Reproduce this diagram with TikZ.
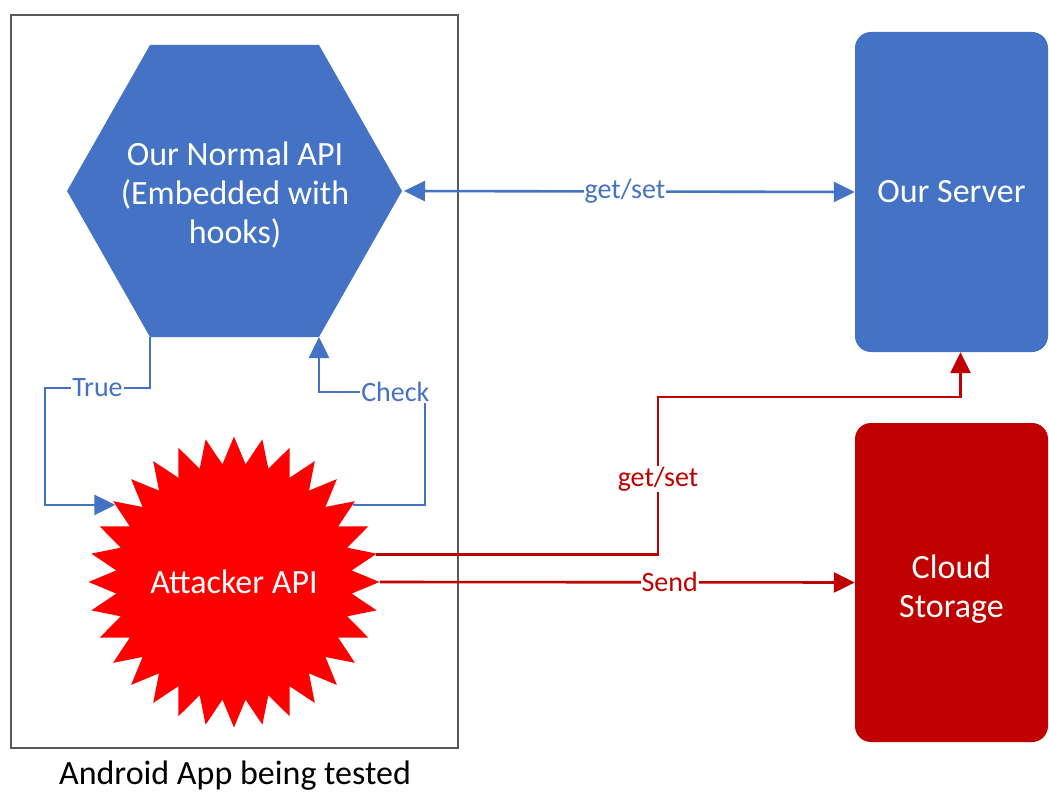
\documentclass[tikz,border=0pt]{standalone}
\usepackage{fontspec}
\setmainfont{Carlito}
\usetikzlibrary{shapes.geometric,arrows.meta}

\definecolor{apiblue}{HTML}{4472C4}
\definecolor{darkred}{HTML}{C00000}
\definecolor{burstred}{HTML}{FF0000}
\definecolor{framegray}{HTML}{595959}

\tikzset{
  bigtext/.style={font=\fontsize{34}{39}\selectfont, align=center},
  whitetext/.style={bigtext, text=white},
  blueline/.style={draw=apiblue, line width=2.6pt,
    -{Triangle[length=21pt,width=20pt]}},
  redline/.style={draw=darkred, line width=2.6pt,
    -{Triangle[length=21pt,width=20pt]}},
  bluelbl/.style={fill=white, inner sep=1pt, text=apiblue,
    font=\fontsize{28}{30}\selectfont},
  redlbl/.style={fill=white, inner sep=1pt, text=darkred,
    font=\fontsize{28}{30}\selectfont},
}

\begin{document}
\begin{tikzpicture}[x=1pt, y=-1pt]
  \useasboundingbox (0,0) rectangle (1049,794);

  % the app under test
  \node (app) [draw=framegray, line width=1.5pt, minimum width=447pt,
    minimum height=733pt, inner sep=0pt] at (234.5,381.5) {};
  \node (applabel) [bigtext, text=black] at (235,776) {Android App being tested};

  % hooked API: flat-topped hexagon with its corners named
  \coordinate (hexTL) at (150,45);
  \coordinate (hexTR) at (319,45);
  \coordinate (hexR)  at (402,191);
  \coordinate (hexBR) at (319,337);
  \coordinate (hexBL) at (150,337);
  \coordinate (hexL)  at (67,191);
  \fill[apiblue] (hexTL) -- (hexTR) -- (hexR) -- (hexBR) -- (hexBL) -- (hexL) -- cycle;
  \node (hex) [whitetext] at (235,195) {Our Normal API\\(Embedded with\\hooks)};

  % other components
  \node (burst) [star, star points=32, star point ratio=1.23,
    minimum size=290pt, inner sep=0pt, fill=burstred, whitetext] at (234,582)
    {Attacker API};
  \node (server) [rounded corners=16pt, fill=apiblue, minimum width=193pt,
    minimum height=320pt, whitetext] at (951.5,192) {Our Server};
  \node (cloud) [rounded corners=16pt, fill=darkred, minimum width=193pt,
    minimum height=319pt] at (951.5,582.5) {};
  \node (cloudtext) [whitetext] at ([yshift=-7pt]cloud.center) {Cloud\\Storage};

  % bend points of the elbow connectors
  \coordinate (truebend) at (45,388);
  \coordinate (checkbend) at (425,392);
  \coordinate (redbend) at (658,397);

  % connectors
  \draw[blueline, {Triangle[length=21pt,width=20pt]}-{Triangle[length=21pt,width=20pt]}]
    ([xshift=2pt]hexR) -- node[bluelbl, pos=0.49] {get/set} (server.west);
  \draw[blueline] (hexBL) |- node[bluelbl, pos=0.75] {True} (truebend)
    |- (burst.147);
  \draw[blueline] (burst.33) -| (checkbend)
    -| node[bluelbl, pos=0.14] {Check} (hexBR);
  \draw[redline] (burst.11) -| node[redlbl, pos=0.74] {get/set} (redbend)
    -| ([xshift=9pt]server.south);
  \draw[redline] (burst.east) -- node[redlbl, pos=0.61] {Send} (cloud.west);
\end{tikzpicture}
\end{document}
